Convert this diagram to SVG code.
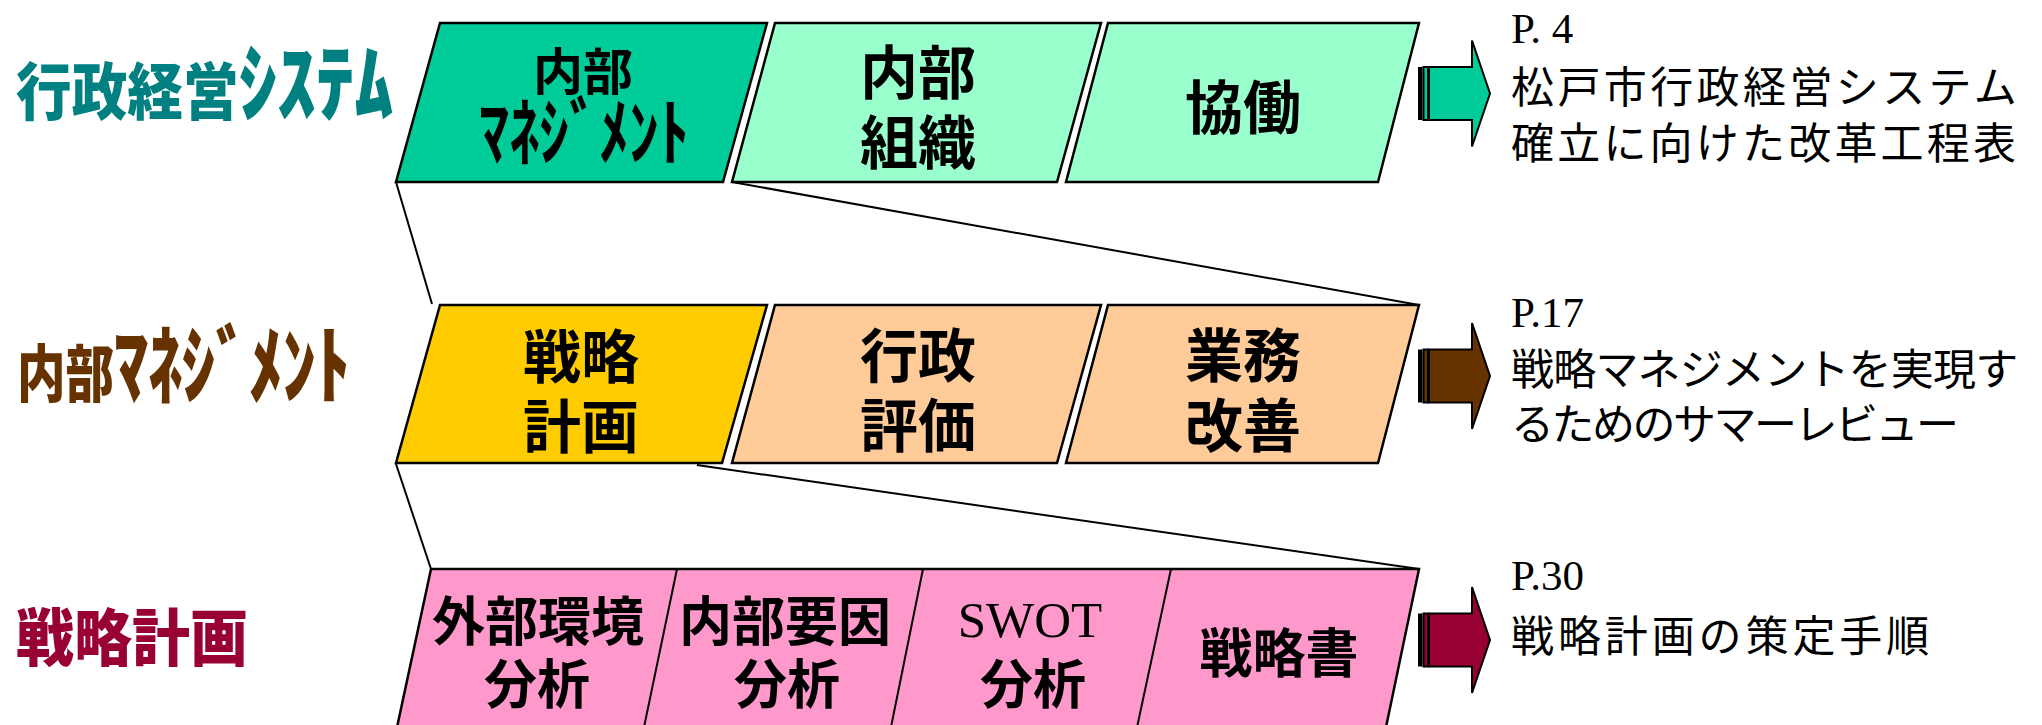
<svg xmlns="http://www.w3.org/2000/svg" width="2042" height="725" viewBox="0 0 2042 725">
<style>
.box{stroke:#000;stroke-width:2.5;stroke-linejoin:miter}
.conn{stroke:#000;stroke-width:2;fill:none}
.title{font-family:"Noto Sans CJK JP",sans-serif;font-weight:900;font-size:62px}
.kana{font-size:86px}
.bt{font-family:"Noto Sans CJK JP",sans-serif;font-weight:700;font-size:58px;fill:#000;text-anchor:middle}
.bt3{font-family:"Noto Sans CJK JP",sans-serif;font-weight:700;font-size:53px;fill:#000;text-anchor:middle}
.sw{font-family:"Liberation Serif",serif;font-weight:400;font-size:51px}
.pg{font-family:"Liberation Serif",serif;font-size:43px}
.rt{font-family:"Noto Sans CJK JP",sans-serif;font-size:43px;fill:#000}
.arr{stroke:#000;stroke-width:2;stroke-linejoin:miter}
</style>
<defs>
<g id="arrowShape">
<rect x="1418" y="-26.5" width="4.5" height="53" fill="#000"/>
<rect x="1423.5" y="-26.5" width="4.5" height="53" class="arr" stroke-width="1.5"/>
<path d="M1429,-26.5 H1472 V-53 L1490,0 L1472,53 V26.5 H1429 Z" class="arr"/>
</g>
</defs>

<g id="connectors">
<line class="conn" x1="396" y1="182" x2="432" y2="304"/>
<line class="conn" x1="732" y1="182" x2="1419" y2="305"/>
<line class="conn" x1="396" y1="464" x2="431" y2="569"/>
<line class="conn" x1="697" y1="465" x2="1419" y2="569"/>
</g>

<g id="title1"><text class="title" x="16" y="115" fill="#008080" textLength="377" lengthAdjust="spacingAndGlyphs">行政経営<tspan class="kana">ｼｽﾃﾑ</tspan></text></g>
<g id="title2"><text class="title" x="17" y="397" fill="#663300" textLength="333" lengthAdjust="spacingAndGlyphs">内部<tspan class="kana">ﾏﾈｼﾞﾒﾝﾄ</tspan></text></g>
<g id="title3"><text class="title" x="16" y="661" fill="#990033" textLength="232" lengthAdjust="spacingAndGlyphs">戦略計画</text></g>

<g id="r1b1">
<polygon class="box" fill="#00CC99" points="440,23 767,23 723,182 396,182"/>
<text class="bt" x="583" y="90" style="font-size:50px">内部</text>
<text class="bt" x="584" y="159" style="font-size:74px" textLength="210" lengthAdjust="spacingAndGlyphs">ﾏﾈｼﾞﾒﾝﾄ</text>
</g>
<g id="r1b2">
<polygon class="box" fill="#99FFCC" points="775,23 1101,23 1057,182 732,182"/>
<text class="bt"><tspan x="918" y="94">内部</tspan><tspan x="918" y="164">組織</tspan></text>
</g>
<g id="r1b3">
<polygon class="box" fill="#99FFCC" points="1108,23 1419,23 1378,182 1066,182"/>
<text class="bt" x="1243" y="129">協働</text>
</g>
<g id="r1arrow" fill="#00CC99"><use href="#arrowShape" transform="translate(0,93.5)"/></g>
<g id="r1text">
<text class="rt"><tspan class="pg" x="1511" y="43">P. 4</tspan><tspan x="1511" y="103" letter-spacing="3.4">松戸市行政経営システム</tspan><tspan x="1511" y="159" letter-spacing="3.2">確立に向けた改革工程表</tspan></text>
</g>

<g id="r2b1">
<polygon class="box" fill="#FFCC00" points="440,305 767,305 722,463 396,463"/>
<text class="bt"><tspan x="581" y="378">戦略</tspan><tspan x="581" y="448">計画</tspan></text>
</g>
<g id="r2b2">
<polygon class="box" fill="#FFCC99" points="775,305 1101,305 1057,463 732,463"/>
<text class="bt"><tspan x="918" y="377">行政</tspan><tspan x="918" y="447">評価</tspan></text>
</g>
<g id="r2b3">
<polygon class="box" fill="#FFCC99" points="1108,305 1419,305 1378,463 1066,463"/>
<text class="bt"><tspan x="1243" y="377">業務</tspan><tspan x="1243" y="447">改善</tspan></text>
</g>
<g id="r2arrow" fill="#663300"><use href="#arrowShape" transform="translate(0,376)"/></g>
<g id="r2text">
<text class="rt"><tspan class="pg" x="1511" y="327">P.17</tspan><tspan x="1511" y="385" letter-spacing="-0.8">戦略マネジメントを実現す</tspan><tspan x="1511" y="440" letter-spacing="-2.5">るためのサマーレビュー</tspan></text>
</g>

<g id="r3band">
<polygon class="box" fill="#FF99CC" points="431,569 1419,569 1385,732 396,732"/>
<line class="conn" x1="677" y1="569" x2="643" y2="732"/>
<line class="conn" x1="923" y1="569" x2="890" y2="732"/>
<line class="conn" x1="1171" y1="569" x2="1136" y2="732"/>
</g>
<g id="r3c1">
<text class="bt3"><tspan x="538" y="641">外部環境</tspan><tspan x="537" y="704">分析</tspan></text>
</g>
<g id="r3c2">
<text class="bt3"><tspan x="785" y="641">内部要因</tspan><tspan x="787" y="704">分析</tspan></text>
</g>
<g id="r3c3">
<text class="bt3"><tspan class="sw" x="1030" y="637">SWOT</tspan><tspan x="1033" y="704">分析</tspan></text>
</g>
<g id="r3c4">
<text class="bt3" x="1279" y="673">戦略書</text>
</g>
<g id="r3arrow" fill="#990033"><use href="#arrowShape" transform="translate(0,640)"/></g>
<g id="r3text">
<text class="rt"><tspan class="pg" x="1511" y="590">P.30</tspan><tspan x="1511" y="652" letter-spacing="3.9">戦略計画の策定手順</tspan></text>
</g>
</svg>
